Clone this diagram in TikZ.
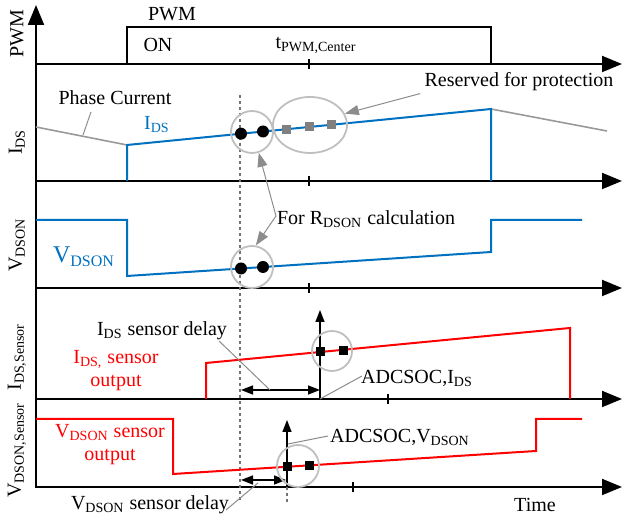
\documentclass[tikz,border=0pt]{standalone}
\usepackage{fontspec}
\setmainfont{Liberation Serif}
\usetikzlibrary{shapes, arrows.meta, positioning}
\definecolor{sigblue}{RGB}{0,112,192}
\definecolor{markgray}{RGB}{128,128,128}
\tikzstyle{axis} = [line width=1pt, -{Triangle[length=10pt, width=8pt]}]
\tikzstyle{sig} = [line width=1pt]
\tikzstyle{lead} = [draw=black!45, line width=0.5pt]
\tikzstyle{leadarr} = [lead, -{Triangle[length=7pt, width=5pt, fill=black!45]}]
\tikzstyle{halo} = [draw=black!25, line width=0.9pt, inner sep=0pt]
\tikzstyle{dot} = [circle, fill=black, inner sep=0pt, minimum size=6pt]
\tikzstyle{sq} = [rectangle, inner sep=0pt, minimum size=4.5pt]
\tikzstyle{delay} = [line width=0.8pt, {Triangle[length=6pt, width=4.5pt]}-{Triangle[length=6pt, width=4.5pt]}]
\tikzstyle{soc} = [line width=0.8pt, -{Triangle[length=6pt, width=4.5pt]}]
\tikzstyle{lbl} = [inner sep=0pt, font=\fontsize{10}{11.5}\selectfont]
\tikzstyle{ylbl} = [lbl, rotate=90]

\begin{document}
\begin{tikzpicture}[x=0.5pt, y=-0.5pt]
  \useasboundingbox (0,0) rectangle (623,517);

  % axes
  \draw[axis] (36,488) -- (36,5);
  \draw[axis] (36,64) -- (622,64);
  \draw[axis] (36,181) -- (622,181);
  \draw[axis] (36,288) -- (622,288);
  \draw[axis] (36,399) -- (622,399);
  \draw[axis] (36,487) -- (622,487);
  \foreach \x/\y in {309/64, 309/181, 309/288, 388/399, 353/487}
    \draw[line width=0.8pt] (\x,\y-5) -- (\x,\y+5);

  \node[ylbl] (yPWM) at (17,34) {PWM};
  \node[ylbl] (yIDS) at (17,142) {I\textsubscript{DS}};
  \node[ylbl] (yVDS) at (17,245) {V\textsubscript{DSON}};
  \node[ylbl] (yIDSs) at (17,357) {I\textsubscript{DS,Sensor}};
  \node[ylbl] (yVDSs) at (17,450) {V\textsubscript{DSON,Sensor}};
  \node[lbl] (time) at (535,505) {Time};

  % sampling instant
  \draw[black!55, line width=0.6pt, dash pattern=on 1.5pt off 1.5pt] (240,95) -- (240,503);

  % PWM
  \draw[sig] (127,64) -- (127,27) -- (491,27) -- (491,64);
  \node[lbl] (pwmLbl) at (172,14) {PWM};
  \node[lbl] (onLbl) at (158,45) {ON};
  \node[lbl] (tcLbl) at (316,45) {t\textsubscript{PWM,Center}};

  % I_DS
  \draw[black!40, line width=0.8pt] (36,127) -- (127,145);
  \draw[black!40, line width=0.8pt] (491,109) -- (607,131);
  \draw[sig, sigblue] (127,181) -- (127,145) -- (491,109) -- (491,181);
  \node[lbl] (phaseLbl) at (115,98) {Phase Current};
  \node[lbl, text=sigblue] (idsLbl) at (157,125) {I\textsubscript{DS}};
  \draw[lead] (91,112) -- (83,135);
  \node[halo, circle, minimum size=21pt] (haloI) at (252,132) {};
  \node[dot] (dI1) at (241,133.7) {};
  \node[dot] (dI2) at (263,131.5) {};
  \node[halo, ellipse, minimum width=37pt, minimum height=28pt] (haloR) at (310,125) {};
  \node[sq, fill=markgray] (pR1) at (286,129.3) {};
  \node[sq, fill=markgray] (pR2) at (309,127) {};
  \node[sq, fill=markgray] (pR3) at (331,124.8) {};
  \node[lbl] (resLbl) at (519,82) {Reserved for protection};
  \draw[leadarr] (resLbl.south west) ++(-4,2) coordinate (resEnd) -- (haloR.18);

  % V_DSON
  \draw[sig, sigblue] (36,220) -- (127,220) -- (127,276) -- (491,252) -- (491,220) -- (582,220);
  \node[lbl, text=sigblue, font=\fontsize{12}{14}\selectfont] (vdsLbl) at (84,257) {V\textsubscript{DSON}};
  \node[halo, circle, minimum size=21pt] (haloV) at (252,267) {};
  \node[dot] (dV1) at (241,268.5) {};
  \node[dot] (dV2) at (263,267) {};
  \node[lbl] (rdsLbl) at (366,219) {For R\textsubscript{DSON} calculation};
  \coordinate (rdsFoot) at (276,216);
  \draw[leadarr] (rdsFoot) -- (haloI.-72);
  \draw[leadarr] (rdsFoot) -- (haloV.80);

  % I_DS sensor
  \draw[sig, red] (206,399) -- (206,363) -- (570,328) -- (570,399);
  \node[lbl, text=red, align=center] (idsOut) at (116,371) {I\textsubscript{DS,} sensor\\output};
  \node[lbl] (idsDelay) at (162,331) {I\textsubscript{DS} sensor delay};
  \coordinate (socI) at (320,399);
  \coordinate (socItop) at (320,310);
  \coordinate (dlyIa) at (241,390);
  \coordinate (dlyIb) at (320,390);
  \draw[soc] (socI) -- (socItop);
  \draw[delay] (dlyIa) -- (dlyIb);
  \draw[lead] (219,341) -- (270,390);
  \node[halo, circle, minimum size=20pt] (haloIs) at (332,351) {};
  \node[sq, fill=black] (sI1) at (320,352) {};
  \node[sq, fill=black] (sI2) at (343,350.8) {};
  \node[lbl] (socIlbl) at (417,378) {ADCSOC,I\textsubscript{DS}};
  \draw[lead] (362,376) -- (socI);

  % V_DSON sensor
  \draw[sig, red] (36,419) -- (173,419) -- (173,474) -- (536,451) -- (536,419) -- (582,419);
  \node[lbl, text=red, align=center] (vdsOut) at (110,445) {V\textsubscript{DSON} sensor\\output};
  \node[lbl] (vdsDelay) at (150,505) {V\textsubscript{DSON} sensor delay};
  \coordinate (socV) at (287,487);
  \coordinate (socVtop) at (287,420);
  \coordinate (dlyVa) at (241,480);
  \coordinate (dlyVb) at (286,480);
  \draw[soc] (socV) -- (socVtop);
  \draw[black!55, line width=0.6pt, dash pattern=on 1.5pt off 1.5pt] (socV) -- (287,503);
  \draw[delay] (dlyVa) -- (dlyVb);
  \draw[lead] (226,510) -- (258,483);
  \node[halo, circle, minimum size=21pt] (haloVs) at (298,466) {};
  \node[sq, fill=black] (sV1) at (287,466.8) {};
  \node[sq, fill=black] (sV2) at (309,465.4) {};
  \node[lbl] (socVlbl) at (400,437) {ADCSOC,V\textsubscript{DSON}};
  \draw[lead] (328,436) -- (288,444);
\end{tikzpicture}
\end{document}
